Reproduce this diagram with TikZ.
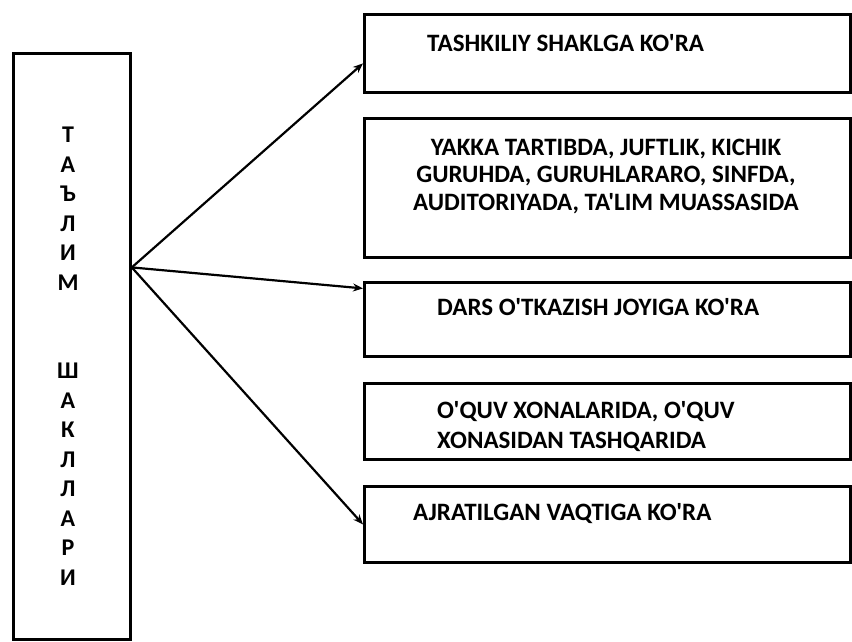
\documentclass[tikz,border=0pt]{standalone}
\usepackage{fontspec}
\setmainfont{Carlito}[Ligatures=TeXOff]
\usetikzlibrary{arrows.meta}
\tikzset{
	box/.style={draw, line width=2.8pt, inner sep=0pt, anchor=north west},
	txt/.style={font=\bfseries\fontsize{25pt}{27.5pt}\selectfont, inner sep=0pt},
	arr/.style={line width=2.2pt, -{Stealth[length=10pt,width=8pt]}}
}

\begin{document}
\begin{tikzpicture}[x=1pt, y=-1pt]
			%%%%% START %%%%%
			
			\useasboundingbox (0, 0) rectangle (852, 641);
			
			\node[box, minimum width=117pt, minimum height=586pt] (talim) at (12, 52) {};
			\node[txt, align=center, font=\bfseries\fontsize{24pt}{29.5pt}\selectfont] (talimtext) at (68, 356)
				{Т\\А\\Ъ\\Л\\И\\М\\ \\ \\Ш\\А\\К\\Л\\Л\\А\\Р\\И};
			
			\node[box, minimum width=486pt, minimum height=78pt] (tashkiliy) at (363, 13) {};
			\node[txt, anchor=base west] (tashkiliytext) at (427, 51) {TASHKILIY SHAKLGA KO'RA};
			
			\node[box, minimum width=486pt, minimum height=139pt] (yakka) at (363, 117) {};
			\node[txt, align=center] (yakkatext) at (606, 176)
				{YAKKA TARTIBDA, JUFTLIK, KICHIK\\GURUHDA, GURUHLARARO, SINFDA,\\AUDITORIYADA, TA'LIM MUASSASIDA};
			
			\node[box, minimum width=486pt, minimum height=74pt] (dars) at (363, 281) {};
			\node[txt, anchor=base west] (darstext) at (437, 315) {DARS O'TKAZISH JOYIGA KO'RA};
			
			\node[box, minimum width=486pt, minimum height=76pt] (oquv) at (363, 382) {};
			\node[txt, align=left, anchor=west, font=\bfseries\fontsize{25pt}{30pt}\selectfont] (oquvtext) at (437, 427)
				{O'QUV XONALARIDA, O'QUV\\XONASIDAN TASHQARIDA};
			
			\node[box, minimum width=486pt, minimum height=76pt] (vaqt) at (363, 485) {};
			\node[txt, anchor=base west] (vaqttext) at (413, 520) {AJRATILGAN VAQTIGA KO'RA};
			
			% arrows from the left box
			\coordinate (from) at ([yshift=79pt]talim.east);
			\draw[arr] (from) -- ([yshift=-10pt]tashkiliy.west);
			\draw[arr] (from) -- ([yshift=31pt]dars.west);
			\draw[arr] (from) -- (vaqt.west);
			
			%%%%% END %%%%%
\end{tikzpicture}
\end{document}
